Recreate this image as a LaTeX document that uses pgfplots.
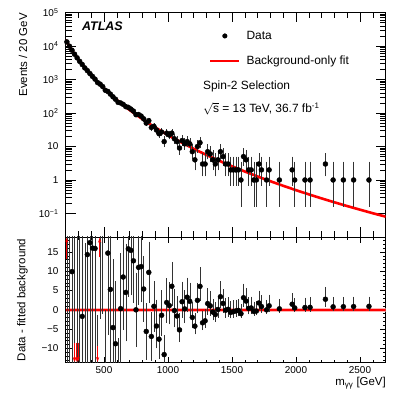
\documentclass[border=0pt]{standalone}
\usepackage{fontspec}
\setmainfont{Liberation Sans}
\usepackage{pgfplots}
\usepackage{pgfplotstable}
\pgfplotsset{compat=1.18}
\usetikzlibrary{arrows.meta}

% background-only fit, events / 20 GeV
\pgfplotstableread{
m f
200 15336
210 13170
230 9838
250 7464
270 5742
290 4472
310 3522
330 2802
350 2248
370 1820
390 1485
410 1220
430 1008
450 839
470 702
490 590
510 499
530 424
550 361
570 309
590 266
610 229.5
630 198.7
650 172.6
670 150.4
690 131.5
710 115.2
730 101.3
750 89.2
770 78.8
790 69.8
810 61.9
830 55.1
850 49.1
870 43.9
890 39.3
910 35.2
930 31.6
950 28.4
970 25.6
990 23.1
1010 20.9
1030 18.9
1050 17.2
1070 15.6
1090 14.2
1110 12.9
1130 11.76
1150 10.73
1170 9.80
1190 8.97
1210 8.22
1230 7.53
1250 6.92
1270 6.36
1290 5.85
1310 5.38
1330 4.96
1350 4.58
1370 4.23
1390 3.91
1410 3.61
1430 3.34
1450 3.10
1470 2.87
1490 2.67
1510 2.48
1530 2.30
1550 2.14
1570 1.99
1590 1.86
1610 1.73
1630 1.62
1650 1.51
1670 1.41
1690 1.32
1710 1.23
1730 1.15
1770 1.01
1800 0.918
1900 0.671
2000 0.497
2100 0.372
2200 0.282
2300 0.2157
2400 0.1665
2500 0.1299
2600 0.1017
2700 0.0805
}\fitcurve

% data: bin centre, events, residual (data - fit), error down, error up
\pgfplotstableread{
m n r em ep
210 13230 60 115 115
230 9873 35 99 99
250 7474 9.9 86 86
270 5692 -50 75 75
290 4427 -45 67 67
310 3482 -40 59 59
330 2800 -1.7 53 53
350 2218 -30 47 47
370 1834 14.3 43 43
390 1502 17.4 39 39
410 1236 16.0 35 35
430 1024 15.9 32 32
450 809 -30 28.4 28.4
470 727 25 27 27
490 614 24 24.8 24.8
510 477 -22 21.8 21.8
530 439 14.7 21 21
550 366 5.3 19.1 19.1
570 304 -4.6 17.4 17.4
590 257 -8.8 16 16
610 208 -22 14.4 14.4
630 199 0.3 14.1 14.1
650 181 8.5 13.5 13.5
670 155 4.5 12.4 12.4
690 147 15.8 12.1 12.1
710 131 15.4 11.4 11.4
730 114 12.7 10.7 10.7
750 89 0.0 9.4 9.4
770 90 11.0 9.5 9.5
790 81 11.2 9.0 9.0
810 67 5.4 8.2 8.2
830 50 -5.6 7.1 7.1
850 59 9.7 7.7 7.7
870 37 -6.9 6.1 6.1
890 40 0.9 6.3 6.3
910 31 -4.2 5.5 6.6
930 24 -7.6 4.85 5.96
950 27 -1.4 5.15 6.26
970 14 -11.6 3.70 4.83
990 25 1.9 4.95 6.06
1010 22 1.1 4.64 5.76
1030 25 6.1 4.95 6.06
1050 17 -0.2 4.08 5.22
1070 14 -1.6 3.70 4.83
1090 9 -5.2 2.94 4.11
1110 15 2.1 3.83 4.96
1130 12 0.24 3.42 4.56
1150 14 3.27 3.70 4.83
1170 12 2.2 3.42 4.56
1190 7 -1.97 2.58 3.77
1210 4 -4.22 1.91 3.16
1230 10 2.47 3.11 4.27
1250 13 6.08 3.56 4.70
1270 3 -3.36 1.63 2.92
1290 3 -2.85 1.63 2.92
1310 7 1.62 2.58 3.77
1330 6 1.04 2.38 3.58
1350 4 -0.58 1.91 3.16
1370 3 -1.23 1.63 2.92
1390 4 0.09 1.91 3.16
1410 7 3.39 2.58 3.77
1430 5 1.66 2.16 3.38
1450 3 -0.10 1.63 2.92
1470 3 0.13 1.63 2.92
1490 2 -0.67 1.29 2.64
1510 2 -0.48 1.29 2.64
1530 2 -0.30 1.29 2.64
1550 2 -0.14 1.29 2.64
1570 1 -0.99 0.83 2.30
1590 5 3.14 2.16 3.38
1610 4 2.27 1.91 3.16
1630 2 0.38 1.29 2.64
1650 2 0.49 1.29 2.64
1670 1 -0.41 0.83 2.30
1690 1 -0.32 0.83 2.30
1710 3 1.77 1.63 2.92
1730 2 0.85 1.29 2.64
1770 1 -0.01 0.83 2.30
1790 2 1.04 1.29 2.64
1870 1 0.26 0.83 2.30
1970 2 1.46 1.29 2.64
1990 1 0.49 0.83 2.30
2070 1 0.59 0.83 2.30
2110 1 0.64 0.83 2.30
2230 3 2.74 1.63 2.92
2290 1 0.78 0.83 2.30
2370 1 0.82 0.83 2.30
2450 1 0.85 0.83 2.30
2570 1 0.89 0.83 2.30
}\datatab

% residuals outside the lower frame
\pgfplotstableread{
x y v
208 13.3 5.4
466 13.6 5.1
268 -8.5 -5.0
283 -8.5 -5.0
297 -8.5 -5.0
450 -9.3 -4.2
}\offscale

\pgfplotsset{
  atlas/.style={
    scale only axis, width=320bp,
    xmin=200, xmax=2700,
    axis line style={black, line width=0.6bp},
    tick align=inside, xtick pos=both, ytick pos=both,
    xtick={500,1000,1500,2000,2500},
    minor xtick={200,300,...,2700},
    major tick length=6bp, minor tick length=3bp,
    tick style={black, line width=0.5bp},
    ticklabel style={font=\fontsize{10}{12}\selectfont},
    yticklabel style={anchor=east, inner sep=0pt, xshift=-7bp},
    xticklabel style={anchor=north, inner sep=0pt, yshift=-4bp},
  },
  dat/.style={black, only marks, mark=*, mark size=2.5bp,
    error bars/y dir=both, error bars/y explicit,
    error bars/error bar style={black!80, line width=0.45bp},
    error bars/error mark options={black!80, mark size=1bp, line width=0.45bp}},
  leg dot/.style={legend image code/.code={%
    \draw[##1, mark repeat=2, mark phase=2] plot coordinates {(0bp,0bp) (14.5bp,0bp) (29bp,0bp)};}},
  leg line/.style={legend image code/.code={%
    \draw[##1] (0bp,0bp) -- (29bp,0bp);}},
}

\begin{document}
\begin{tikzpicture}
\useasboundingbox (0,0) rectangle (407bp,395bp);

\begin{axis}[atlas, at={(65.6bp,158.1bp)}, anchor=south west, height=224.4bp,
  ymode=log, ymin=0.02, ymax=1e5,
  xticklabels={},
  ytick={0.1,1,10,100,1000,10000,100000},
  yticklabels={10\textsuperscript{−1},1,10,10\textsuperscript{2},10\textsuperscript{3},10\textsuperscript{4},10\textsuperscript{5}},
  major tick length=10bp, minor tick length=6bp,
  legend style={at={(rel axis cs:0.448,0.918)}, anchor=north west,
    draw=none, fill=none, inner sep=0pt, row sep=15bp,
    font=\fontsize{12}{14}\selectfont,
    nodes={inner sep=0pt},
    /tikz/every odd column/.append style={column sep=6bp}},
  legend cell align=left,
]
\addlegendimage{black, only marks, mark=*, mark size=2.3bp, leg dot}
\addlegendentry{Data}
\addlegendimage{red, line width=2.4bp, leg line}
\addlegendentry{Background-only fit}

\addplot[red, line width=2.6bp, forget plot] table[x=m, y=f] {\fitcurve};
\addplot[forget plot, dat] table[x=m, y=n, y error plus=ep, y error minus=em] {\datatab};

\node[anchor=west, inner sep=0pt, font=\bfseries\itshape\fontsize{12.5}{14}\selectfont]
  at (rel axis cs:0.051,0.94) {ATLAS};
\node[anchor=west, inner sep=0pt, font=\fontsize{12}{14}\selectfont]
  at (rel axis cs:0.429,0.672) {Spin-2 Selection};
\node[anchor=west, inner sep=0pt, font=\fontsize{12}{14}\selectfont]
  at (rel axis cs:0.429,0.57) {$\sqrt{\hbox{s}}$ = 13 TeV, 36.7 fb\textsuperscript{-1}};
\end{axis}

\begin{axis}[atlas, at={(65.6bp,32.3bp)}, anchor=south west, height=125.8bp,
  ymin=-13.7, ymax=18.9,
  ytick={-10,-5,0,5,10,15},
  yticklabels={−10,−5,0,5,10,15},
  minor ytick={-13,...,18},
  xticklabels={500,1000,1500,2000,2500},
]
\addplot[red!30, line width=4.5bp] coordinates {(200,0) (2700,0)};
\addplot[red, line width=2.4bp] coordinates {(200,0) (2700,0)};
\addplot[dat] table[x=m, y=r, y error plus=ep, y error minus=em] {\datatab};
\addplot[red, line width=0.9bp, -{Stealth[length=5bp, width=3.2bp]},
  quiver={u=0, v=\thisrow{v}}] table[x=x, y=y] {\offscale};
\end{axis}

\node[rotate=90, anchor=east, inner sep=0pt, font=\fontsize{11.5}{14}\selectfont]
  at (23bp,382bp) {Events / 20 GeV};
\node[rotate=90, inner sep=0pt, font=\fontsize{11.5}{14}\selectfont]
  at (22.5bp,95bp) {Data - fitted background};
\node[anchor=east, inner sep=0pt, font=\fontsize{11.5}{14}\selectfont]
  at (386bp,12bp) {m\textsubscript{γγ} [GeV]};
\end{tikzpicture}
\end{document}
